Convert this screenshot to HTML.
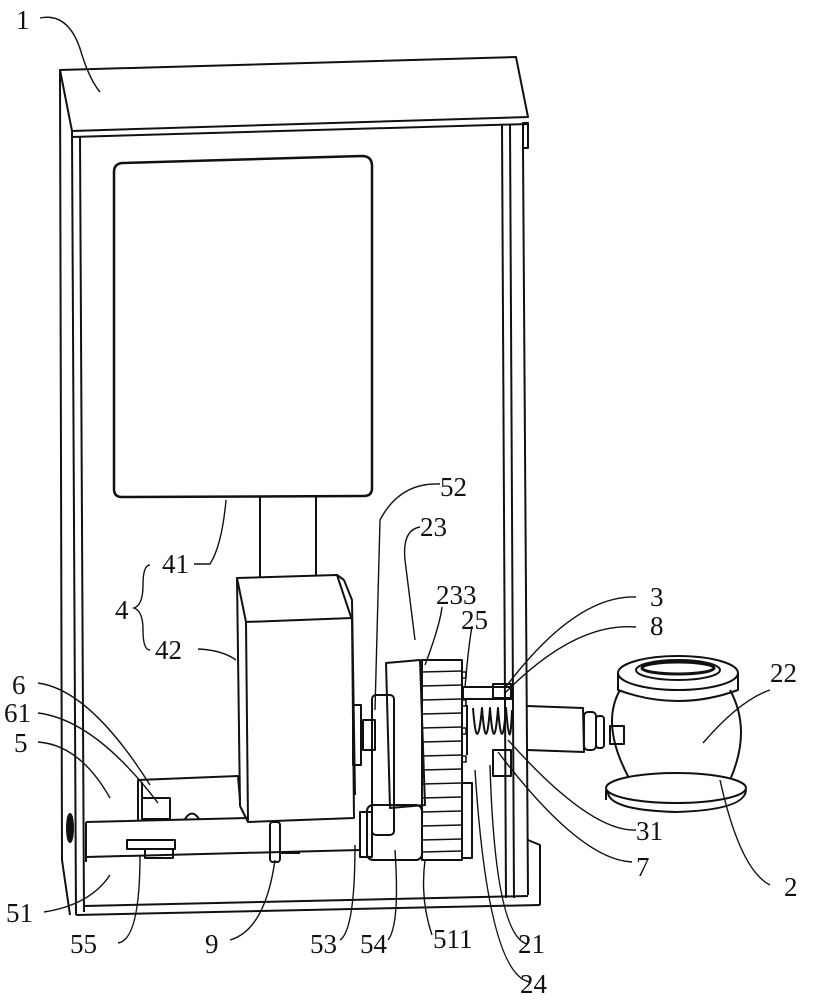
<!DOCTYPE html>
<html><head><meta charset="utf-8"><style>
html,body{margin:0;padding:0;background:#fff;}
svg{display:block}
text{font-family:"Liberation Serif",serif;font-size:27px;fill:#111}
</style></head><body>
<svg width="829" height="1000" viewBox="0 0 829 1000" xmlns="http://www.w3.org/2000/svg">
<g fill="none" stroke="#111" stroke-width="2" stroke-linejoin="round">
<polygon points="60,70 516,57 528,117 72,131" fill="#fff"/>
<line x1="72" y1="137" x2="528" y2="124"/>
<line x1="72" y1="131" x2="72" y2="137"/>
<rect x="523" y="123" width="5" height="25"/>
<path d="M60,70 L62,860 L70,915"/>
<line x1="72" y1="131" x2="76" y2="915"/>
<line x1="80" y1="137" x2="84" y2="912"/>
<path d="M76,915 L540,905"/>
<path d="M84,906 L528,896"/>
<line x1="502" y1="124" x2="506" y2="898"/>
<line x1="510" y1="124" x2="514" y2="898"/>
<line x1="523" y1="148" x2="528" y2="895"/>
<path d="M528,840 L540,845 L540,905"/>
<ellipse cx="70" cy="828" rx="3" ry="14" fill="#111"/>
<path d="M122,163 L362,156 Q372,156 372,166 L372,488 Q372,496 364,496 L122,497 Q114,497 114,489 L114,172 Q114,164 122,163 Z" stroke-width="2.5"/>
<path d="M260,497 L260,585 M316,497 L316,582"/>
<path d="M260,580 Q288,592 316,580"/>
<polygon points="237,578 337,575 352,620 246,622" fill="#fff"/>
<line x1="337" y1="575" x2="344" y2="580"/>
<path d="M344,580 L352,600 L355,795"/>
<polygon points="246,622 352,618 354,818 248,822" fill="#fff"/>
<line x1="237" y1="578" x2="240" y2="806"/>
<line x1="240" y1="806" x2="248" y2="822"/>
<rect x="353" y="705" width="8" height="60"/>
<path d="M138,820 L138,780 L238,776 L240,800"/>
<path d="M142,820 L142,782"/>
<rect x="142" y="798" width="28" height="21"/>
<path d="M185,819 Q192,808 199,819"/>
<path d="M86,822 L248,818 M86,822 L86,857 L360,850 M360,821 L360,850"/>
<path d="M86,857 L86,862"/>
<rect x="127" y="840" width="48" height="9"/>
<rect x="145" y="849" width="28" height="9"/>
<rect x="270" y="822" width="10" height="40" rx="3"/>
<line x1="280" y1="853" x2="300" y2="853"/>
<rect x="372" y="695" width="22" height="140" rx="4"/>
<rect x="363" y="720" width="12" height="30"/>
<path d="M386,663 L420,660 L425,805 L390,808 Z"/>
<rect x="367" y="805" width="55" height="55" rx="6"/>
<rect x="360" y="812" width="12" height="45"/>
<rect x="422" y="660" width="40" height="200"/>
<g stroke-width="1.6">
<line x1="422" y1="672" x2="462" y2="671"/><line x1="422" y1="686" x2="462" y2="685"/>
<line x1="422" y1="700" x2="462" y2="699"/><line x1="422" y1="714" x2="462" y2="713"/>
<line x1="422" y1="728" x2="462" y2="727"/><line x1="422" y1="742" x2="462" y2="741"/>
<line x1="422" y1="756" x2="462" y2="755"/><line x1="422" y1="770" x2="462" y2="769"/>
<line x1="422" y1="784" x2="462" y2="783"/><line x1="422" y1="798" x2="462" y2="797"/>
<line x1="422" y1="812" x2="462" y2="811"/><line x1="422" y1="826" x2="462" y2="825"/>
<line x1="422" y1="840" x2="462" y2="839"/><line x1="422" y1="852" x2="462" y2="851"/>
<path d="M462,672 h4 v6 h-4 M462,700 h4 v6 h-4 M462,728 h4 v6 h-4 M462,756 h4 v6 h-4"/>
</g>
<rect x="462" y="783" width="10" height="75"/>
<rect x="463" y="687" width="50" height="12"/>
<rect x="493" y="684" width="18" height="14"/>
<rect x="493" y="750" width="18" height="26"/>
<path d="M467,705 L467,755 M473,708 Q477,760 482,708 Q486,760 490,708 Q494,760 498,708 Q502,760 506,708 Q510,760 512,710"/>
<path d="M527,706 L583,708 L584,752 L527,750"/>
<rect x="584" y="712" width="12" height="38" rx="4"/>
<rect x="596" y="716" width="8" height="32" rx="3"/>
<rect x="610" y="726" width="14" height="18"/>
<path d="M620,690 Q600,725 630,780 Q680,810 730,780 Q752,730 730,690"/>
<ellipse cx="678" cy="673" rx="60" ry="17" fill="#fff"/>
<path d="M618,673 L618,690 Q678,712 738,690 L738,673"/>
<ellipse cx="678" cy="670" rx="42" ry="10"/>
<ellipse cx="678" cy="668" rx="36" ry="6" stroke-width="3"/>
<path d="M608,790 Q605,810 676,812 Q745,810 746,790"/>
<ellipse cx="676" cy="788" rx="70" ry="15" fill="#fff"/>
<line x1="606" y1="790" x2="606" y2="800"/>
</g>
<g fill="none" stroke="#111" stroke-width="1.4">
<path d="M40,18 Q70,12 82,55 Q90,80 100,92"/>
<path d="M38,683 Q90,690 150,785"/>
<path d="M38,713 Q95,720 158,803"/>
<path d="M38,742 Q80,745 110,798"/>
<path d="M44,912 Q90,905 110,875"/>
<path d="M118,943 Q140,940 140,855"/>
<path d="M230,940 Q265,930 275,860"/>
<path d="M340,940 Q355,930 355,845"/>
<path d="M388,940 Q400,925 395,850"/>
<path d="M432,935 Q420,900 425,860"/>
<path d="M527,944 Q495,935 490,765"/>
<path d="M530,982 Q488,975 475,770"/>
<path d="M194,564 L210,564 Q222,545 226,500"/>
<path d="M198,649 Q222,650 236,660"/>
<path d="M440,484 Q400,482 380,520 L375,710"/>
<path d="M420,527 Q402,530 405,560 L415,640"/>
<path d="M442,607 Q440,625 425,665"/>
<path d="M472,626 Q468,650 465,688"/>
<path d="M636,597 Q575,595 505,688"/>
<path d="M636,627 Q575,622 505,693"/>
<path d="M636,830 Q590,832 508,740"/>
<path d="M632,862 Q580,860 498,752"/>
<path d="M770,885 Q740,870 720,780"/>
<path d="M770,690 Q740,700 703,743"/>
<path d="M150,565 Q143,565 143,585 Q143,605 134,608 Q143,611 143,630 Q143,650 150,650"/>
</g>
<text x="16" y="29">1</text>
<text x="12" y="694">6</text>
<text x="4" y="722">61</text>
<text x="14" y="752">5</text>
<text x="6" y="922">51</text>
<text x="70" y="953">55</text>
<text x="205" y="953">9</text>
<text x="310" y="953">53</text>
<text x="360" y="953">54</text>
<text x="433" y="948">511</text>
<text x="518" y="953">21</text>
<text x="520" y="993">24</text>
<text x="784" y="896">2</text>
<text x="636" y="876">7</text>
<text x="636" y="840">31</text>
<text x="770" y="682">22</text>
<text x="650" y="606">3</text>
<text x="650" y="635">8</text>
<text x="461" y="629">25</text>
<text x="436" y="604">233</text>
<text x="420" y="536">23</text>
<text x="440" y="496">52</text>
<text x="162" y="573">41</text>
<text x="155" y="659">42</text>
<text x="115" y="619">4</text>
</svg>
</body></html>
